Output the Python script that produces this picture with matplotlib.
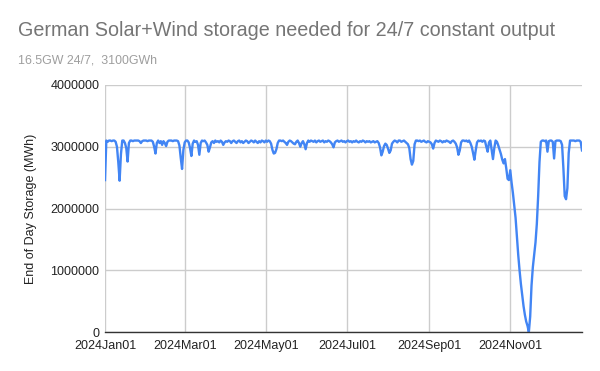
import matplotlib
matplotlib.use("Agg")
import matplotlib.pyplot as plt
import matplotlib.dates as mdates
import numpy as np
import pandas as pd

plt.rcParams['font.family'] = ['Liberation Sans', 'DejaVu Sans']

title = "German Solar+Wind storage needed for 24/7 constant output"
subtitle = "16.5GW 24/7,  3100GWh"
y_label = "End of Day Storage (MWh)"
start_date = "2024-01-01"

# End-of-day storage, GWh, one value per day from 2024-01-01
storage_gwh = [
    2460, 3100, 3080, 3100, 3100, 3090, 3100, 3100, 3080, 3000,
    2750, 2450, 2880, 3100, 3100, 3060, 2980, 2760, 3060, 3100,
    3100, 3090, 3100, 3100, 3100, 3100, 3090, 3060, 3090, 3100,
    3100, 3100, 3090, 3100, 3100, 3100, 3080, 3000, 2890, 3060,
    3100, 3060, 3090, 3030, 3090, 3060, 3010, 3080, 3100, 3100,
    3100, 3090, 3100, 3100, 3100, 3090, 3020, 2820, 2640, 2950,
    3070, 3100, 3100, 3070, 2980, 2850, 3050, 3100, 3080, 3090,
    3030, 2870, 3060, 3100, 3090, 3100, 3070, 3030, 2920, 2990,
    3070, 3090, 3060, 3100, 3080, 3090, 3070, 3100, 3080, 3030,
    3070, 3090, 3080, 3100, 3090, 3060, 3090, 3100, 3080, 3060,
    3090, 3100, 3070, 3090, 3060, 3080, 3100, 3090, 3060, 3080,
    3100, 3090, 3070, 3100, 3080, 3060, 3090, 3070, 3100, 3090,
    3070, 3100, 3080, 3100, 3090, 3050, 2950, 2890, 2900, 2960,
    3060, 3100, 3100, 3090, 3100, 3080, 3060, 3030, 3080, 3100,
    3090, 3070, 3050, 3040, 3080, 3100, 3060, 3000, 3060, 3090,
    3040, 2960, 3060, 3100, 3080, 3100, 3090, 3080, 3100, 3070,
    3090, 3100, 3080, 3090, 3100, 3070, 3090, 3080, 3100, 3090,
    3070, 3040, 2990, 3070, 3090, 3100, 3080, 3090, 3100, 3080,
    3090, 3070, 3090, 3100, 3080, 3090, 3070, 3090, 3080, 3100,
    3080, 3070, 3090, 3080, 3100, 3090, 3070, 3090, 3080, 3090,
    3070, 3080, 3090, 3070, 3080, 3090, 3060, 2990, 2860, 2920,
    3010, 3050, 3030, 2970, 2900, 2940, 3050, 3080, 3100, 3090,
    3070, 3100, 3100, 3080, 3090, 3100, 3080, 3060, 3040, 2980,
    2800, 2710, 2770, 3040, 3100, 3100, 3090, 3100, 3080, 3090,
    3100, 3080, 3070, 3090, 3080, 3070, 3040, 2970, 3060, 3100,
    3090, 3080, 3100, 3090, 3070, 3090, 3080, 3100, 3090, 3080,
    3060, 3090, 3100, 3080, 3050, 2990, 2870, 2940, 3070, 3100,
    3100, 3090, 3100, 3080, 3100, 3060, 3000, 2900, 2790, 2940,
    3070, 3100, 3090, 3100, 3080, 3100, 3090, 3000, 2920, 3070,
    3100, 2950, 2800, 2980, 3100, 3080, 3020, 2950, 2880, 2790,
    2730, 2800, 2650, 2480, 2460, 2620, 2420, 2250, 2050, 1850,
    1550, 1250, 1000, 780, 600, 420, 280, 170, 100, 0,
    250, 750, 1050, 1250, 1450, 1750, 2200, 2750, 3080, 3100,
    3100, 3090, 3100, 2920, 3090, 3100, 3100, 3080, 2810, 3090,
    3100, 3100, 3100, 3090, 3030, 2650, 2200, 2150, 2330, 2900,
    3100, 3100, 3100, 3100, 3090, 3100, 3100, 3100, 3080, 2940,
]

y_ticks = [0, 1000000, 2000000, 3000000, 4000000]
x_tick_dates = ["2024-01-01", "2024-03-01", "2024-05-01", "2024-07-01",
                "2024-09-01", "2024-11-01"]

dates = pd.date_range(start_date, periods=len(storage_gwh), freq="D")
storage_mwh = np.array(storage_gwh) * 1000

fig = plt.figure(figsize=(6.0, 3.71), dpi=100)
ax = fig.add_axes([0.175, 0.105, 0.795, 0.666])

ax.plot(dates, storage_mwh, color="#4285F4", linewidth=1.7, zorder=3,
        solid_joinstyle="round")

ax.set_ylim(0, 4000000)
ax.set_yticks(y_ticks)
ax.set_yticklabels([str(v) for v in y_ticks])
ax.set_xlim(dates[0], dates[-1])
ax.set_xticks(pd.to_datetime(x_tick_dates))
ax.xaxis.set_major_formatter(mdates.DateFormatter("%Y%b%d"))

ax.grid(True, color="#cccccc", linewidth=1.0, zorder=0)
for s in ["top", "right", "left"]:
    ax.spines[s].set_visible(False)
ax.spines["bottom"].set_color("#333333")
ax.spines["bottom"].set_linewidth(1.0)
ax.spines["bottom"].set_zorder(4)
ax.tick_params(axis="both", length=0, labelsize=9, colors="#222222", pad=4)
ax.tick_params(axis="x", pad=6)

ax.set_ylabel(y_label, fontsize=9, color="#222222", labelpad=10)

fig.text(0.030, 0.903, title, fontsize=14.2, color="#757575", va="baseline")
fig.text(0.030, 0.830, subtitle, fontsize=8.9, color="#9e9e9e", va="baseline")

fig.savefig("out.png", dpi=100, facecolor="white")
